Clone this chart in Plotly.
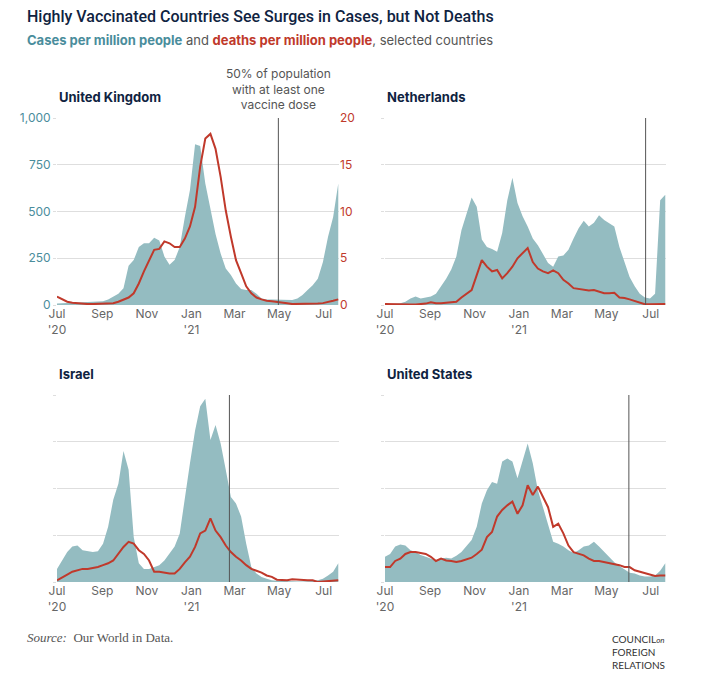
import plotly.graph_objects as go
import pandas as pd

W, H = 703, 680

# ---------------- data (weekly samples) ----------------
dates = pd.date_range("2020-07-01", periods=56, freq="7D")

uk_cases = [8, 9, 10, 11, 12, 14, 16, 17, 18, 20, 30, 45, 60, 90, 210, 240, 310, 330, 330, 360,
            345, 260, 215, 240, 310, 470, 615, 860, 850, 650, 515, 380, 275, 195, 160, 115, 85, 80, 80, 60,
            35, 30, 30, 30, 27, 30, 27, 35, 53, 80, 105, 140, 230, 365, 470, 650]
uk_deaths = [0.9, 0.6, 0.35, 0.25, 0.18, 0.12, 0.1, 0.1, 0.1, 0.1, 0.12, 0.18, 0.35, 0.6, 0.8, 1.25, 2.3, 3.6, 4.8, 5.9,
             6.0, 6.8, 6.6, 6.2, 6.2, 7.1, 8.4, 10.5, 14.8, 17.8, 18.3, 16.7, 13.7, 10.1, 7.3, 4.8, 3.4, 2.0, 1.25, 0.8,
             0.6, 0.45, 0.4, 0.3, 0.25, 0.18, 0.1, 0.1, 0.1, 0.1, 0.1, 0.15, 0.2, 0.3, 0.45, 0.6]

nl_cases = [3, 4, 5, 10, 18, 35, 45, 35, 40, 45, 60, 100, 140, 190, 260, 400, 490, 575, 525, 350,
            310, 300, 285, 385, 560, 680, 545, 475, 420, 355, 320, 275, 225, 205, 260, 265, 295, 355, 410, 450,
            420, 440, 480, 455, 435, 420, 310, 225, 150, 100, 60, 40, 35, 60, 560, 590]
nl_deaths = [0.1, 0.08, 0.05, 0.05, 0.05, 0.05, 0.05, 0.1, 0.15, 0.3, 0.2, 0.2, 0.25, 0.3, 0.35, 0.8, 1.25, 1.6, 3.2, 4.8,
             4.1, 3.6, 3.75, 2.85, 3.4, 4.1, 5.0, 5.5, 6.1, 4.6, 3.9, 3.6, 3.4, 3.7, 3.4, 2.7, 2.3, 1.8, 1.7, 1.6,
             1.55, 1.6, 1.4, 1.25, 1.25, 1.3, 0.8, 0.75, 0.6, 0.45, 0.25, 0.08, 0.08, 0.08, 0.08, 0.1]

il_cases = [70, 115, 160, 190, 195, 170, 165, 160, 165, 205, 295, 440, 525, 700, 600, 240, 100, 70, 70, 80,
            90, 115, 150, 190, 260, 455, 635, 810, 940, 980, 760, 840, 740, 600, 455, 420, 350, 205, 80, 45,
            27, 18, 9, 7, 5, 5, 4, 3, 3, 3, 5, 9, 18, 35, 55, 100]
il_deaths = [0.18, 0.45, 0.8, 1.1, 1.25, 1.4, 1.4, 1.5, 1.6, 1.8, 2.0, 2.3, 3.0, 3.75, 4.3, 4.1, 3.4, 3.0, 2.3, 1.1,
             1.1, 1.0, 0.9, 0.9, 1.4, 2.1, 2.7, 3.75, 5.2, 5.5, 6.8, 5.5, 4.8, 3.9, 3.2, 2.7, 2.3, 1.8, 1.4, 1.2,
             1.0, 0.7, 0.55, 0.25, 0.25, 0.18, 0.3, 0.25, 0.18, 0.18, 0.18, 0.0, 0.05, 0.1, 0.18, 0.18]

us_cases = [135, 150, 190, 200, 195, 170, 160, 145, 135, 125, 115, 125, 130, 125, 140, 160, 190, 225, 295, 420,
            490, 535, 525, 645, 660, 645, 555, 650, 740, 635, 490, 400, 310, 215, 205, 190, 170, 155, 170, 190,
            195, 215, 190, 160, 135, 105, 85, 65, 50, 45, 35, 30, 30, 35, 60, 100]
us_deaths = [1.6, 1.6, 2.25, 2.5, 3.0, 3.2, 3.2, 3.1, 3.0, 2.7, 2.25, 2.5, 2.3, 2.25, 2.15, 2.25, 2.4, 2.6, 3.0, 3.45,
             4.8, 5.35, 7.0, 7.7, 8.2, 8.6, 7.3, 8.2, 10.35, 9.3, 10.2, 9.1, 8.0, 5.9, 6.25, 5.2, 3.9, 3.2, 3.0, 2.85,
             2.5, 2.25, 2.25, 2.15, 2.0, 1.9, 1.8, 1.6, 1.6, 1.25, 1.1, 1.0, 0.8, 0.65, 0.7, 0.7]

countries = ["United Kingdom", "Netherlands", "Israel", "United States"]
vax_dates = ["2021-04-30", "2021-06-24", "2021-02-22", "2021-06-01"]

tick_dates = ["2020-07-01", "2020-09-01", "2020-11-01", "2021-01-01", "2021-03-01", "2021-05-01", "2021-07-01"]
tick_labels = ["Jul<br>'20", "Sep", "Nov", "Jan<br>'21", "Mar", "May", "Jul"]
case_ticks = [0, 250, 500, 750, 1000]
case_tick_labels = ["0", "250", "500", "750", "1,000"]
death_ticks = [0, 5, 10, 15, 20]

# ---------------- style ----------------
FILL = "#94bcc1"
RED = "#c0392b"
TEAL_TXT = "#4a8d9c"
GRID = "#dedede"
NAVY = "#0f2341"
GRAY = "#666666"
FONT = "Inter, Lato, sans-serif"

def px(x):
    return x / W

def py(y):
    return 1 - y / H

# pixel boxes: (x0, x1, ytop, ybot)
boxes = [(57, 339, 118, 305), (385, 666, 118, 305), (57, 339, 395, 582), (385, 666, 395, 582)]
series = [(uk_cases, uk_deaths), (nl_cases, nl_deaths), (il_cases, il_deaths), (us_cases, us_deaths)]

fig = go.Figure()
layout = {}
annotations = []
shapes = []

for i, (name, (cases, deaths), box, vd) in enumerate(zip(countries, series, boxes, vax_dates)):
    n = i + 1
    xa = f"x{n}" if n > 1 else "x"
    yc_id = 2 * i + 1
    yd_id = 2 * i + 2
    yc = f"y{yc_id}" if yc_id > 1 else "y"
    yd = f"y{yd_id}"
    x0, x1, yt, yb = box
    show = (i == 0)

    fig.add_trace(go.Scatter(x=dates, y=cases, mode="lines", fill="tozeroy",
                             fillcolor=FILL, line=dict(width=0, color=FILL),
                             xaxis=xa, yaxis=yc, showlegend=False, hoverinfo="skip"))
    fig.add_trace(go.Scatter(x=dates, y=deaths, mode="lines",
                             line=dict(width=2, color=RED),
                             xaxis=xa, yaxis=yd, showlegend=False, hoverinfo="skip"))

    xkey = f"xaxis{n}" if n > 1 else "xaxis"
    layout[xkey] = dict(domain=[px(x0), px(x1)], anchor=yc,
                        range=["2020-07-01", "2021-07-22"],
                        tickmode="array", tickvals=tick_dates, ticktext=tick_labels,
                        showgrid=False, zeroline=False, showline=False, ticks="",
                        automargin=False,
                        tickfont=dict(family=FONT, size=12, color=GRAY))
    yckey = f"yaxis{yc_id}" if yc_id > 1 else "yaxis"
    layout[yckey] = dict(domain=[py(yb), py(yt)], anchor=xa, range=[0, 1000],
                         tickmode="array", tickvals=case_ticks, ticktext=case_tick_labels,
                         showticklabels=show, showgrid=True, gridcolor=GRID, gridwidth=1,
                         zeroline=False, showline=False, automargin=False,
                         ticks="outside", ticklen=3, tickcolor=GRID,
                         tickfont=dict(family=FONT, size=12, color=TEAL_TXT))
    layout[f"yaxis{yd_id}"] = dict(domain=[py(yb), py(yt)], anchor=xa, overlaying=yc, side="right",
                                   range=[0, 20], tickmode="array", tickvals=death_ticks,
                                   showticklabels=show, showgrid=False, zeroline=False, showline=False,
                                   ticks="", automargin=False,
                                   tickfont=dict(family=FONT, size=12, color=RED))

    shapes.append(dict(type="line", xref=xa, yref=yc, x0=vd, x1=vd, y0=0, y1=1000,
                       line=dict(color="#555555", width=1), layer="above"))

    annotations.append(dict(text=f"<b>{name}</b>", x=px(x0), y=py(yt - 21), xref="paper", yref="paper",
                            xanchor="left", yanchor="middle", showarrow=False,
                            font=dict(family=FONT, size=13, color=NAVY)))

# vaccine annotation (UK)
annotations.append(dict(text="50% of population<br>with at least one<br>vaccine dose",
                        x="2021-04-30", xref="x", y=py(89), yref="paper",
                        xanchor="center", yanchor="middle", showarrow=False, align="center",
                        font=dict(family=FONT, size=12, color="#555555")))

# title & subtitle
annotations.append(dict(text="Highly Vaccinated Countries See Surges in Cases, but Not Deaths",
                        x=px(25), y=py(16), xref="paper", yref="paper", xanchor="left", yanchor="middle",
                        showarrow=False, font=dict(family="Roboto, Inter, sans-serif", size=16,
                                                   weight=500, color=NAVY)))
annotations.append(dict(text=(f"<b><span style='color:{TEAL_TXT}'>Cases per million people</span></b>"
                              f" and <b><span style='color:{RED}'>deaths per million people</span></b>"
                              ", selected countries"),
                        x=px(25), y=py(40), xref="paper", yref="paper", xanchor="left", yanchor="middle",
                        showarrow=False, font=dict(family=FONT, size=13, color="#555555")))

# source
annotations.append(dict(text="<i>Source:</i>  Our World in Data.",
                        x=px(25), y=py(637), xref="paper", yref="paper", xanchor="left", yanchor="middle",
                        showarrow=False, font=dict(family="Liberation Serif, DejaVu Serif, serif", size=13, color="#555555")))
# logo
annotations.append(dict(text="COUNCIL<i><span style='font-size:8px'>on</span></i><br>FOREIGN<br>RELATIONS",
                        x=px(610), y=py(652), xref="paper", yref="paper", xanchor="left", yanchor="middle",
                        showarrow=False, align="left",
                        font=dict(family="Lato, sans-serif", size=10, color="#333333")))

fig.update_layout(width=W, height=H, autosize=False,
                  margin=dict(l=0, r=0, t=0, b=0, pad=0, autoexpand=False),
                  paper_bgcolor="white", plot_bgcolor="white",
                  annotations=annotations, shapes=shapes,
                  font=dict(family=FONT), **layout)

fig.write_html("out.html")
